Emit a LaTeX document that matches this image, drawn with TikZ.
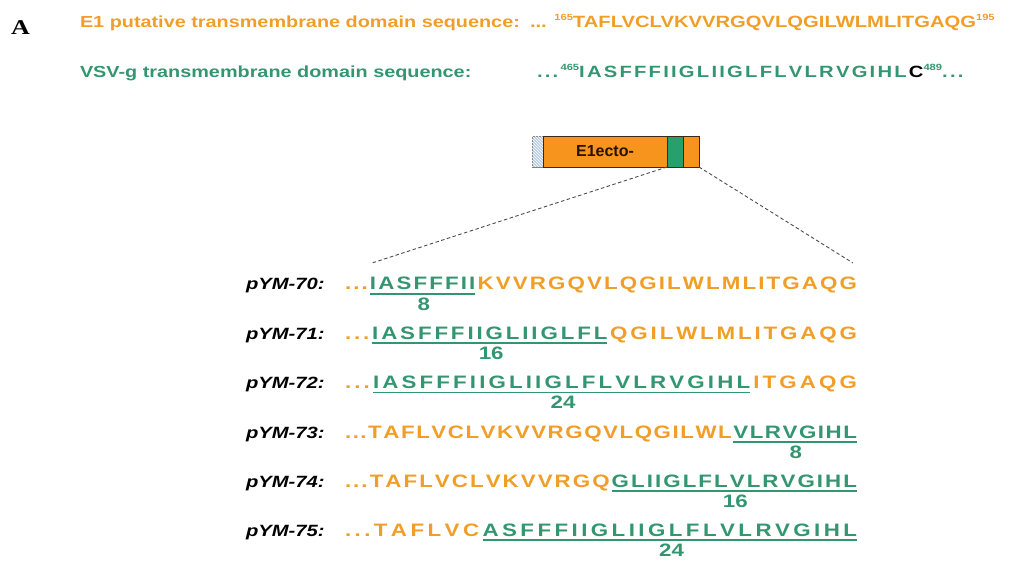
\documentclass[tikz,border=0pt]{standalone}
\usepackage{fontspec}
\setmainfont{Liberation Sans}
\newfontfamily\serifA{Liberation Serif}
\usepackage{graphicx}
\usetikzlibrary{calc,patterns}
\definecolor{orT}{RGB}{240,158,40}
\definecolor{grT}{RGB}{52,150,112}
\definecolor{orB}{RGB}{247,148,29}
\definecolor{grB}{RGB}{40,160,110}
\definecolor{hatchB}{RGB}{184,204,228}
\definecolor{boxline}{RGB}{60,40,20}
\newcommand\hs[1]{\scalebox{1.24}[1]{#1}}
\newdimen\seqkern \seqkern=1.7pt
\ExplSyntaxOn
\NewDocumentCommand\spc{O{\seqkern}m}{\tl_map_inline:nn{#2}{##1\kern#1}}
\NewDocumentCommand\setrowkern{m}{
  \hbox_set:Nn \l_tmpa_box {\normalfont\bfseries\fontsize{18}{20}\selectfont \spc[0pt]{#1}}
  \int_set:Nn \l_tmpa_int {\tl_count:n{#1}-1}
  \dim_gset:Nn \seqkern {(412.9pt-\box_wd:N \l_tmpa_box)/\l_tmpa_int}
}
\ExplSyntaxOff
\newcommand\supn[1]{\raisebox{0.45em}{\fontsize{9}{9}\selectfont #1}}
\tikzset{
  txt/.style={inner sep=0pt, outer sep=0pt, anchor=base west, font=\bfseries\fontsize{16.3}{18}\selectfont},
  sq/.style={inner sep=0pt, outer sep=0pt, anchor=base west, font=\bfseries\fontsize{18}{20}\selectfont},
  lab/.style={inner sep=0pt, outer sep=0pt, anchor=base west, font=\bfseries\itshape\fontsize{16.3}{18}\selectfont},
  num/.style={inner sep=0pt, outer sep=0pt, anchor=base, text=grT, font=\bfseries\fontsize{18}{20}\selectfont},
  uline/.style={draw=grT, line width=1.6pt},
  dline/.style={draw=black!70, line width=0.9pt, dash pattern=on 3.5pt off 2.5pt},
  seg/.style={draw=boxline, line width=0.9pt, inner sep=0pt, outer sep=0pt, minimum height=31pt, anchor=north west}
}
\newcommand\rowG[6]{%
  \node[lab] (l#1) at (246,#2) {\setrowkern{...#4#5}\hs{#3}};
  \node[sq,text=orT] (d#1) at (345,#2) {\hs{\spc{...}}};
  \node[sq,text=grT] (g#1) at (d#1.base east) {\hs{\spc{#4}}};
  \node[sq,text=orT] (o#1) at (g#1.base east) {\hs{\spc{#5}}};
  \draw[uline] ([yshift=-4pt]g#1.base west) -- ([yshift=-4pt,xshift=-1.24*\seqkern]g#1.base east);
  \node[num] (n#1) at ($(g#1.base west)!0.5!(g#1.base east)+(0,-20)$) {\hs{#6}};
}
\newcommand\rowO[6]{%
  \node[lab] (l#1) at (246,#2) {\setrowkern{...#4#5}\hs{#3}};
  \node[sq,text=orT] (o#1) at (345,#2) {\hs{\spc{...#4}}};
  \node[sq,text=grT] (g#1) at (o#1.base east) {\hs{\spc{#5}}};
  \draw[uline] ([yshift=-4pt]g#1.base west) -- ([yshift=-4pt,xshift=-1.24*\seqkern]g#1.base east);
  \node[num] (n#1) at ($(g#1.base west)!0.5!(g#1.base east)+(0,-20)$) {\hs{#6}};
}
\begin{document}
\begin{tikzpicture}[x=1pt,y=1pt]
\useasboundingbox (0,0) rectangle (1017,-561);
% panel letter
\node[inner sep=0pt, anchor=base west, font=\serifA\bfseries\fontsize{21}{22}\selectfont] (A) at (11,-35) {\hs{A}};
% header lines
\node[txt,text=orT,font=\bfseries\fontsize{16}{18}\selectfont] (h1) at (80,-28) {\hs{E1 putative transmembrane domain sequence:}};
\node[txt,text=orT] (s1) at (530,-28) {\hs{... \supn{165}TAFLVCLVKVVRGQVLQGILWLMLITGAQG\supn{195}}};
\node[txt,text=grT,font=\bfseries\fontsize{16}{18}\selectfont] (h2) at (80,-78) {\hs{VSV-g transmembrane domain sequence:}};
\node[txt,text=grT] (s2) at (537,-78) {\hs{\spc[1.8pt]{...}\supn{465}\spc[1.8pt]{IASFFFIIGLIIGLFLVLRVGIHL}{\color{black}C}\supn{489}\spc[1.8pt]{...}}};
% construct
\node[seg, fill=hatchB, draw=black!50, minimum width=11pt, postaction={pattern=north west lines, pattern color=white}] (hb) at (532,-136) {};
\node[seg, fill=orB, minimum width=124pt, font=\bfseries\fontsize{16}{18}\selectfont, text=black!85!orange] (ecto) at (hb.north east) {E1ecto-};
\node[seg, fill=grB, minimum width=16pt] (tm) at (ecto.north east) {};
\node[seg, fill=orB, minimum width=16pt] (ct) at (tm.north east) {};
\coordinate (dl) at (372,-263);
\coordinate (dr) at (853,-263);
\draw[dline] (tm.south west) -- (dl);
\draw[dline] (ct.south east) -- (dr);
% rows
\rowG{70}{-290}{pYM-70:}{IASFFFII}{KVVRGQVLQGILWLMLITGAQG}{8}
\rowG{71}{-339}{pYM-71:}{IASFFFIIGLIIGLFL}{QGILWLMLITGAQG}{16}
\rowG{72}{-388.5}{pYM-72:}{IASFFFIIGLIIGLFLVLRVGIHL}{ITGAQG}{24}
\rowO{73}{-438}{pYM-73:}{TAFLVCLVKVVRGQVLQGILWL}{VLRVGIHL}{8}
\rowO{74}{-487}{pYM-74:}{TAFLVCLVKVVRGQ}{GLIIGLFLVLRVGIHL}{16}
\rowO{75}{-536}{pYM-75:}{TAFLVC}{ASFFFIIGLIIGLFLVLRVGIHL}{24}
\end{tikzpicture}
\end{document}
